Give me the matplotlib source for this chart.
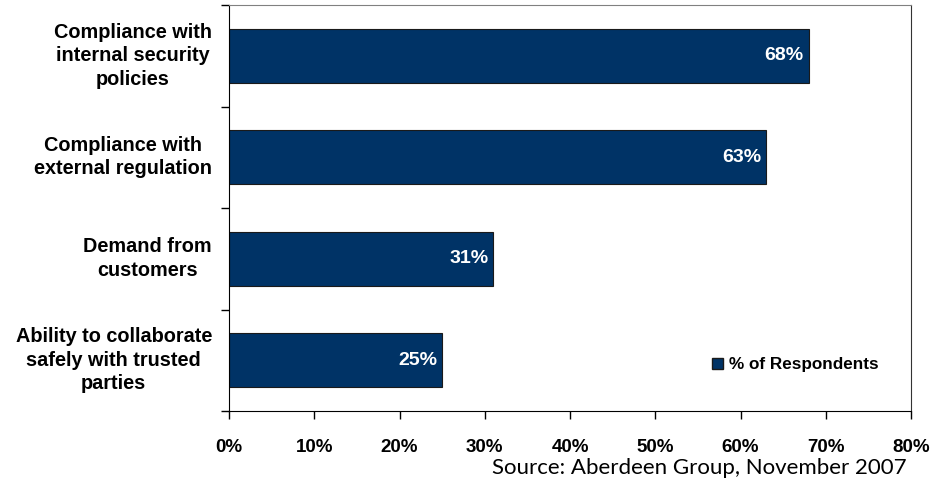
import numpy as np
import matplotlib.pyplot as plt
from matplotlib.patches import Patch

categories = ['Compliance with\ninternal security\npolicies',
              'Compliance with\nexternal regulation',
              'Demand from\ncustomers',
              'Ability to collaborate\nsafely with trusted\nparties']
values = [68, 63, 31, 25]
xticks = [0, 10, 20, 30, 40, 50, 60, 70, 80]

bar_color = '#003366'
plt.rcParams['font.family'] = ['Liberation Sans', 'DejaVu Sans']

fig = plt.figure(figsize=(9.32, 4.79), dpi=100)
ax = fig.add_axes([229 / 932, 1 - 411 / 479, (911 - 229) / 932, (411 - 5) / 479])

y = np.arange(len(categories))
ax.barh(y, values, height=0.53, color=bar_color, edgecolor='#1a1a1a', linewidth=0.8)
ax.set_ylim(len(categories) - 0.5, -0.5)
ax.set_xlim(0, 80)

# value labels inside the bar ends
for yi, v in zip(y, values):
    ax.text(v - 0.6, yi, f'{v}%', color='white', fontsize=14, fontweight='bold',
            ha='right', va='center')

# category labels, right edge fixed, lines centred
ax.set_yticks([])
for yi, c in zip(y, categories):
    ax.text(-17 / 682, yi, c, ha='right', va='center', fontsize=14.3, fontweight='bold',
            multialignment='center', linespacing=1.3, transform=ax.get_yaxis_transform())

# tick marks at category boundaries
ax.set_yticks(np.arange(-0.5, len(categories)), minor=True)
ax.tick_params(axis='y', which='minor', length=6, width=1, direction='out')

ax.set_xticks(xticks)
ax.set_xticklabels([f'{t}%' for t in xticks], fontsize=13.5, fontweight='bold')
ax.tick_params(axis='x', length=6, width=1, direction='out', pad=14)

ax.spines['left'].set_color('black')
ax.spines['bottom'].set_color('black')
ax.spines['top'].set_color('#808080')
ax.spines['right'].set_color('#333333')

ax.legend(handles=[Patch(facecolor=bar_color, edgecolor='#1a1a1a', label='% of Respondents')],
          loc='center left', bbox_to_anchor=(483 / 682, (411 - 365) / 406), frameon=False,
          prop={'weight': 'bold', 'size': 12.3}, handlelength=0.65, handleheight=0.65,
          handletextpad=0.35, borderpad=0, borderaxespad=0)

fig.text(907 / 932, 1 - 468 / 479, 'Source: Aberdeen Group, November 2007',
         ha='right', va='center', fontsize=16, family=['Lato', 'DejaVu Sans'])

fig.savefig('out.png', dpi=100)
